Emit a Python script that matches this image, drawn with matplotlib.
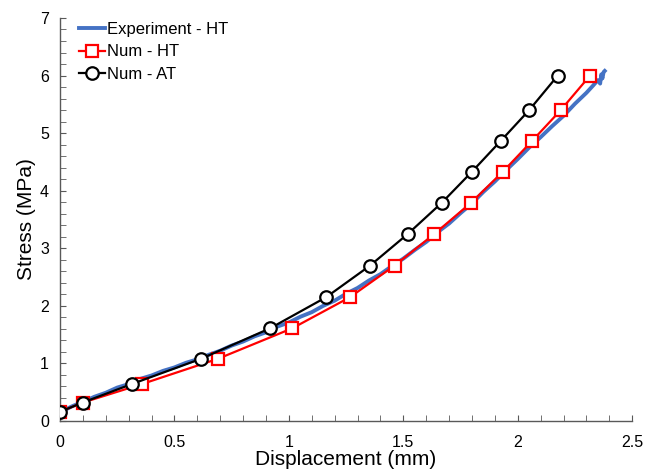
import matplotlib.pyplot as plt
from matplotlib.ticker import MultipleLocator

plt.rcParams['font.family'] = ['Liberation Sans', 'DejaVu Sans']

# experiment - HT
exp_x = [0, 0.03, 0.05, 0.08, 0.1, 0.15, 0.2, 0.25, 0.3, 0.35, 0.4, 0.45, 0.5, 0.55,
         0.6, 0.65, 0.7, 0.75, 0.8, 0.85, 0.9, 0.95, 1.0, 1.05, 1.1, 1.15, 1.2, 1.25,
         1.3, 1.35, 1.4, 1.45, 1.5, 1.55, 1.6, 1.65, 1.7, 1.75, 1.8, 1.85, 1.9, 1.95,
         2.0, 2.05, 2.1, 2.15, 2.2, 2.25, 2.3, 2.33, 2.35, 2.36, 2.365, 2.37, 2.375, 2.38]
exp_y = [0.15, 0.21, 0.25, 0.30, 0.33, 0.42, 0.49, 0.58, 0.64, 0.73, 0.79, 0.87, 0.93, 1.01,
         1.07, 1.15, 1.22, 1.31, 1.38, 1.47, 1.54, 1.64, 1.71, 1.81, 1.89, 2.0, 2.09, 2.21,
         2.31, 2.44, 2.55, 2.69, 2.82, 2.97, 3.11, 3.28, 3.43, 3.61, 3.78, 3.98, 4.16, 4.36,
         4.55, 4.75, 4.93, 5.12, 5.3, 5.51, 5.70, 5.83, 5.92, 5.86, 6.02, 5.95, 6.06, 6.08]

# Num - HT
ht_x = [0, 0.1, 0.357, 0.69, 1.015, 1.267, 1.462, 1.636, 1.796, 1.935, 2.064, 2.188, 2.316]
ht_y = [0.16, 0.32, 0.64, 1.08, 1.61, 2.15, 2.70, 3.25, 3.79, 4.33, 4.87, 5.40, 6.0]

# Num - AT
at_x = [0, 0.099, 0.313, 0.616, 0.918, 1.163, 1.355, 1.52, 1.668, 1.80, 1.927, 2.05, 2.175]
at_y = [0.16, 0.32, 0.64, 1.08, 1.61, 2.15, 2.70, 3.25, 3.79, 4.33, 4.87, 5.40, 6.0]

fig = plt.figure(figsize=(6.48, 4.73), dpi=100)
ax = fig.add_axes([0.0926, 0.11, 0.883, 0.852])

ax.plot(exp_x, exp_y, color='#4472C4', lw=2.8, label='Experiment - HT', zorder=2)
ax.plot(ht_x, ht_y, color='red', lw=1.6, marker='s', ms=9, mfc='white', mec='red',
        mew=1.6, label='Num - HT', zorder=3)
ax.plot(at_x, at_y, color='black', lw=1.6, marker='o', ms=9, mfc='white', mec='black',
        mew=1.6, label='Num - AT', zorder=4)

ax.set_xlim(0, 2.5)
ax.set_ylim(0, 7)
ax.xaxis.set_major_locator(MultipleLocator(0.5))
ax.xaxis.set_minor_locator(MultipleLocator(0.1))
ax.yaxis.set_major_locator(MultipleLocator(1))
ax.yaxis.set_minor_locator(MultipleLocator(0.2))
ax.set_xticks([0, 0.5, 1, 1.5, 2, 2.5])
ax.set_xticklabels(['0', '0.5', '1', '1.5', '2', '2.5'])

for s in ['top', 'right']:
    ax.spines[s].set_visible(False)
for s in ['left', 'bottom']:
    ax.spines[s].set_color('#595959')
    ax.spines[s].set_linewidth(1.0)
ax.tick_params(which='both', direction='in', color='#595959', labelsize=11.5)
ax.tick_params(axis='x', pad=10)
ax.tick_params(axis='y', pad=8)
ax.tick_params(which='major', length=4)
ax.tick_params(which='minor', length=4)

ax.set_xlabel('Displacement (mm)', fontsize=15, labelpad=0)
ax.set_ylabel('Stress (MPa)', fontsize=15, labelpad=3)

ax.legend(loc='upper left', bbox_to_anchor=(0.015, 1.015), frameon=False, fontsize=12,
          handlelength=1.6, handletextpad=0.1, labelspacing=0.45, borderaxespad=0.2)

fig.savefig('out.png', dpi=100)
